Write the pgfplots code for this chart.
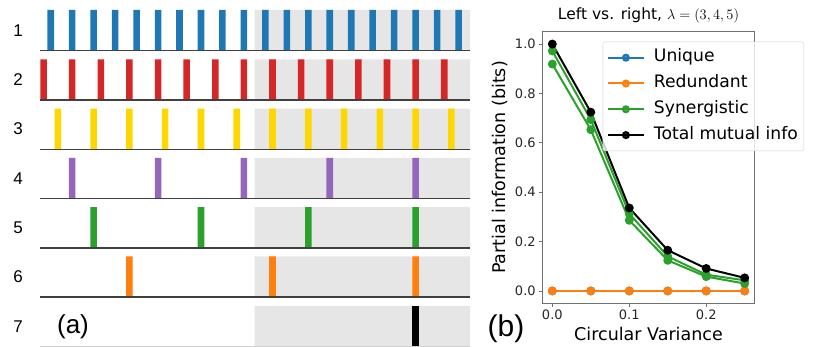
\documentclass[border=0pt]{standalone}
\usepackage{pgfplots}
\pgfplotsset{compat=1.18}
\usepackage{fontspec}
\setmainfont{DejaVu Sans}
\newfontfamily\lib{Liberation Sans}

\definecolor{tblue}{HTML}{1F77B4}
\definecolor{tred}{HTML}{D62728}
\definecolor{tgold}{HTML}{FFD700}
\definecolor{tpurple}{HTML}{9467BD}
\definecolor{tgreen}{HTML}{2CA02C}
\definecolor{torange}{HTML}{FF7F0E}
\definecolor{bggray}{HTML}{E6E6E6}
\definecolor{basecol}{HTML}{404040}
\definecolor{spinecol}{HTML}{707070}
\definecolor{legedge}{HTML}{D0D0D0}

\pgfplotsset{
  rowax/.style={scale only axis, width=430pt, height=40.7pt,
    xmin=7.5, xmax=67.6, ymin=0, ymax=1, hide axis, clip=false,
    anchor=south west},
  bg/.style={fill=bggray, draw=none},
  spk/.style={ybar, bar width=0.92, bar shift=0pt, draw=none, fill=#1},
  base/.style={draw=basecol, line width=1.4pt},
}

\begin{document}
\begin{tikzpicture}[x=1pt,y=1pt]
\path[use as bounding box] (0,-347) rectangle (817,0);

% ---------- panel (a) ----------
\begin{axis}[rowax, at={(40pt,-50.7pt)}]
\addplot[bg] coordinates {(37.5,0) (37.5,1) (67.6,1) (67.6,0)} \closedcycle;
\addplot[spk=tblue] coordinates {(9,1)(12,1)(15,1)(18,1)(21,1)(24,1)(27,1)(30,1)(33,1)(36,1)(39,1)(42,1)(45,1)(48,1)(51,1)(54,1)(57,1)(60,1)(63,1)(66,1)};
\addplot[base] coordinates {(7.5,0) (67.6,0)};
\end{axis}

\begin{axis}[rowax, at={(40pt,-100pt)}]
\addplot[bg] coordinates {(37.5,0) (37.5,1) (67.6,1) (67.6,0)} \closedcycle;
\addplot[spk=tred] coordinates {(8,1)(12,1)(16,1)(20,1)(24,1)(28,1)(32,1)(36,1)(40,1)(44,1)(48,1)(52,1)(56,1)(60,1)(64,1)};
\addplot[base] coordinates {(7.5,0) (67.6,0)};
\end{axis}

\begin{axis}[rowax, at={(40pt,-149.3pt)}]
\addplot[bg] coordinates {(37.5,0) (37.5,1) (67.6,1) (67.6,0)} \closedcycle;
\addplot[spk=tgold] coordinates {(10,1)(15,1)(20,1)(25,1)(30,1)(35,1)(40,1)(45,1)(50,1)(55,1)(60,1)(65,1)};
\addplot[base] coordinates {(7.5,0) (67.6,0)};
\end{axis}

\begin{axis}[rowax, at={(40pt,-198.6pt)}]
\addplot[bg] coordinates {(37.5,0) (37.5,1) (67.6,1) (67.6,0)} \closedcycle;
\addplot[spk=tpurple] coordinates {(12,1)(24,1)(36,1)(48,1)(60,1)};
\addplot[base] coordinates {(7.5,0) (67.6,0)};
\end{axis}

\begin{axis}[rowax, at={(40pt,-247.9pt)}]
\addplot[bg] coordinates {(37.5,0) (37.5,1) (67.6,1) (67.6,0)} \closedcycle;
\addplot[spk=tgreen] coordinates {(15,1)(30,1)(45,1)(60,1)};
\addplot[base] coordinates {(7.5,0) (67.6,0)};
\end{axis}

\begin{axis}[rowax, at={(40pt,-297.2pt)}]
\addplot[bg] coordinates {(37.5,0) (37.5,1) (67.6,1) (67.6,0)} \closedcycle;
\addplot[spk=torange] coordinates {(20,1)(40,1)(60,1)};
\addplot[base] coordinates {(7.5,0) (67.6,0)};
\end{axis}

\begin{axis}[rowax, at={(40pt,-346.5pt)}]
\addplot[bg] coordinates {(37.5,0) (37.5,1) (67.6,1) (67.6,0)} \closedcycle;
\addplot[spk=black] coordinates {(60,1)};
\addplot[draw=legedge, line width=1pt] coordinates {(7.5,0) (67.6,0)};
\end{axis}

\begin{scope}[font=\lib\fontsize{17}{20}\selectfont]
\node at (18,-30.4) {1};
\node at (18,-79.7) {2};
\node at (18,-129.0) {3};
\node at (18,-178.3) {4};
\node at (18,-227.6) {5};
\node at (18,-276.9) {6};
\node at (18,-326.2) {7};
\end{scope}
\node[font=\lib\fontsize{26}{30}\selectfont] at (73,-327) {(a)};

% ---------- panel (b) ----------
\begin{axis}[at={(542.7pt,-31.7pt)}, anchor=north west,
  scale only axis, width=211.6pt, height=271.6pt,
  xmin=-0.0125, xmax=0.2625, ymin=-0.05, ymax=1.05,
  xtick={0,0.1,0.2}, xticklabels={0.0,0.1,0.2},
  ytick={0,0.2,0.4,0.6,0.8,1.0}, yticklabels={0.0,0.2,0.4,0.6,0.8,1.0},
  tick align=outside, tick pos=left, major tick length=3.5pt,
  axis line style={spinecol, line width=0.8pt},
  tick style={spinecol, line width=0.8pt},
  ticklabel style={font=\fontsize{13}{15}\selectfont, text=black!85},
  title={Left vs. right, $\lambda=(3,4,5)$},
  title style={font=\fontsize{15.5}{18}\selectfont, at={(axis description cs:0.5,1)}, anchor=base, yshift=5.7pt},
  xlabel={Circular Variance}, ylabel={Partial information (bits)},
  every axis x label/.style={at={(axis description cs:0.5,-0.112)}, anchor=center, font=\fontsize{17.5}{20}\selectfont},
  every axis y label/.style={at={(axis description cs:-0.2017,0.5)}, rotate=90, anchor=center, font=\fontsize{17.5}{20}\selectfont},
  legend cell align=left,
  legend image code/.code={\draw[mark repeat=2, mark phase=2, #1, mark size=3pt] plot coordinates {(0pt,0pt) (18pt,0pt) (36pt,0pt)};},
  legend style={at={(axis description cs:0.2836,0.963)}, anchor=north west,
    draw=legedge, fill=white, fill opacity=0.8, text opacity=1, rounded corners=2pt,
    font=\fontsize{17.2}{19}\selectfont, inner xsep=4pt, inner ysep=5.5pt,
    nodes={text height=12.5pt, text depth=4pt, inner sep=2pt}, row sep=5.3pt,
    /tikz/every odd column/.append style={column sep=7pt}},
]
\addplot[tblue, line width=2pt, mark=*, mark size=3.4pt] coordinates {(0,0)(0.05,0)(0.1,0)(0.15,0)(0.2,0)(0.25,0)};
\addlegendentry{Unique}
\addplot[torange, line width=2pt, mark=*, mark size=3.4pt] coordinates {(0,0)(0.05,0)(0.1,0)(0.15,0)(0.2,0)(0.25,0)};
\addlegendentry{Redundant}
\addplot[tgreen, line width=2pt, mark=*, mark size=3.4pt] coordinates {(0,0.972)(0.05,0.694)(0.1,0.313)(0.15,0.140)(0.2,0.066)(0.25,0.043)};
\addlegendentry{Synergistic}
\addplot[tgreen, line width=2pt, mark=*, mark size=3.4pt, forget plot] coordinates {(0,0.919)(0.05,0.653)(0.1,0.286)(0.15,0.124)(0.2,0.058)(0.25,0.030)};
\addplot[black, line width=2pt, mark=*, mark size=3.4pt] coordinates {(0,1.0)(0.05,0.724)(0.1,0.336)(0.15,0.165)(0.2,0.091)(0.25,0.053)};
\addlegendentry{Total mutual info}
\end{axis}
\node[font=\lib\fontsize{30}{33}\selectfont] at (506,-329) {(b)};
\end{tikzpicture}
\end{document}
